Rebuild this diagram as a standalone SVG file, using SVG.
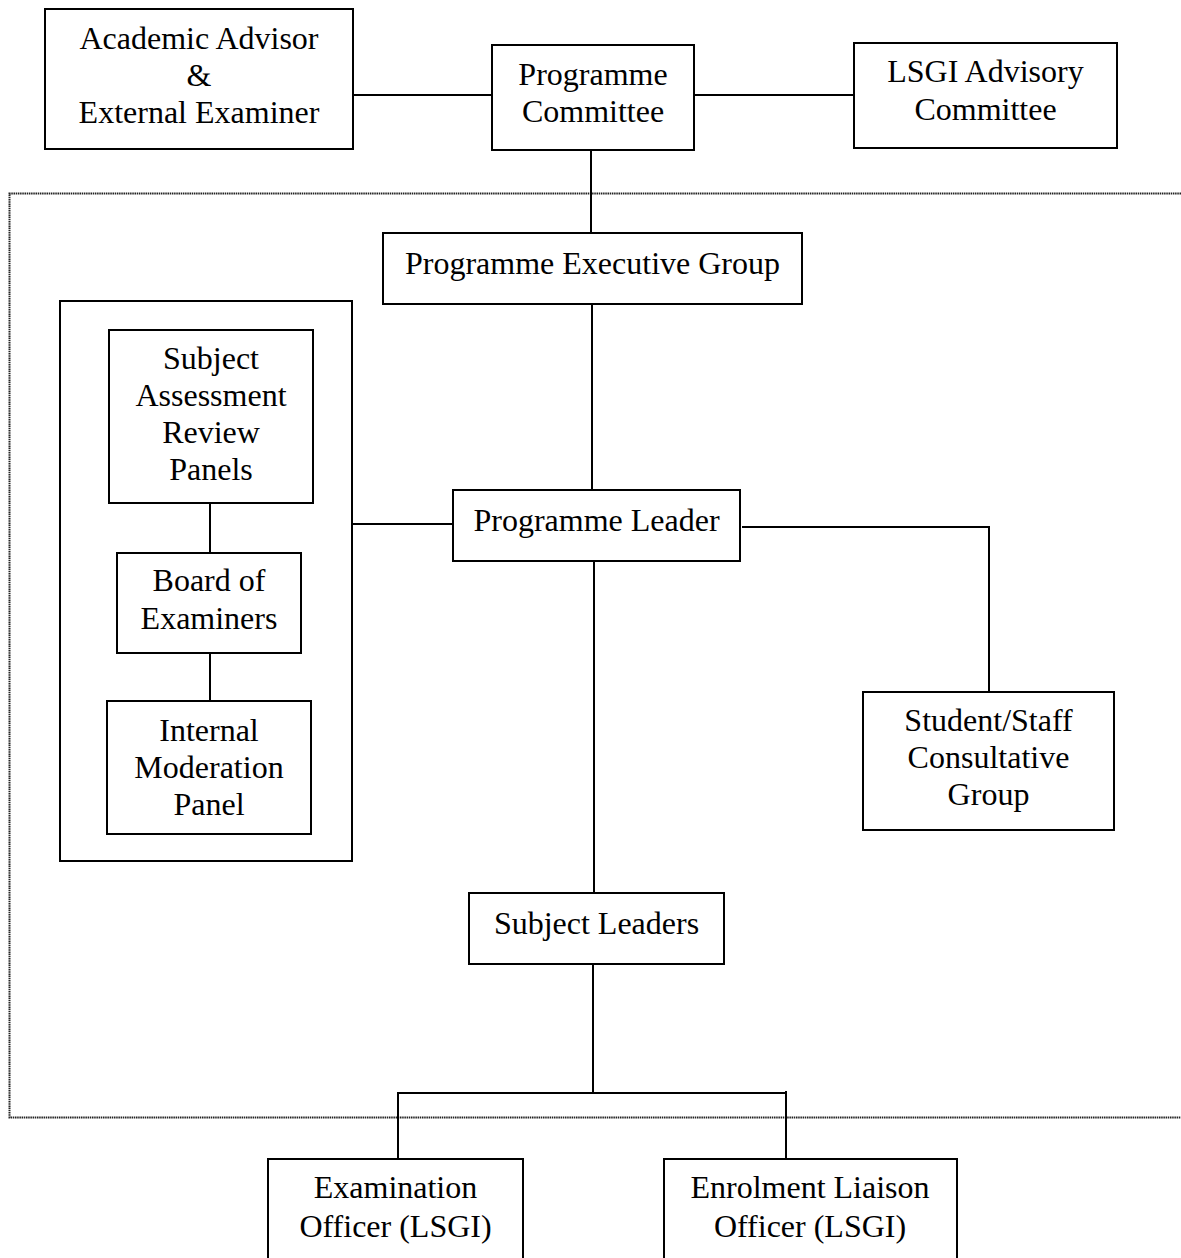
<svg xmlns="http://www.w3.org/2000/svg" width="1181" height="1258" viewBox="0 0 1181 1258">
<style>
.box{fill:#fff;stroke:#000;stroke-width:2}
.frame{fill:none;stroke:#000;stroke-width:2}
.ln{fill:none;stroke:#000;stroke-width:2}
.dot{fill:none;stroke:#222;stroke-width:2;stroke-dasharray:1.5 0.7}
text{font-family:"Liberation Serif","Times New Roman",serif;font-size:32px;fill:#000;text-anchor:middle}
</style>
<rect width="1181" height="1258" fill="#fff"/>
<path id="boundary" class="dot" d="M1181,193.5 H9.5 V1117.5 H1181"/>
<g id="connectors">
<path class="ln" d="M353,95 H492"/>
<path class="ln" d="M694,95 H854"/>
<path class="ln" d="M591,150 V233"/>
<path class="ln" d="M592,304 V490"/>
<path class="ln" d="M352,524 H453"/>
<path class="ln" d="M742,527 H989 V692"/>
<path class="ln" d="M594,561 V893"/>
<path class="ln" d="M210,503 V553"/>
<path class="ln" d="M210,653 V701"/>
<path class="ln" d="M593,964 V1093"/>
<path class="ln" d="M398,1159 V1093 H786"/>
<path class="ln" d="M786,1091 V1159"/>
</g>
<g id="academic-advisor">
<rect class="box" x="45" y="9" width="308" height="140"/>
<text x="199" y="49">Academic Advisor</text>
<text x="199" y="86">&amp;</text>
<text x="199" y="123">External Examiner</text>
</g>
<g id="programme-committee">
<rect class="box" x="492" y="45" width="202" height="105"/>
<text x="593" y="85">Programme</text>
<text x="593" y="122">Committee</text>
</g>
<g id="lsgi-advisory">
<rect class="box" x="854" y="43" width="263" height="105"/>
<text x="985.5" y="82">LSGI Advisory</text>
<text x="985.5" y="120">Committee</text>
</g>
<g id="programme-executive-group">
<rect class="box" x="383" y="233" width="419" height="71"/>
<text x="592.5" y="274">Programme Executive Group</text>
</g>
<g id="assessment-panel">
<rect class="frame" x="60" y="301" width="292" height="560"/>
</g>
<g id="subject-assessment-review-panels">
<rect class="box" x="109" y="330" width="204" height="173"/>
<text x="211" y="369">Subject</text>
<text x="211" y="406">Assessment</text>
<text x="211" y="443">Review</text>
<text x="211" y="480">Panels</text>
</g>
<g id="board-of-examiners">
<rect class="box" x="117" y="553" width="184" height="100"/>
<text x="209" y="591">Board of</text>
<text x="209" y="629">Examiners</text>
</g>
<g id="internal-moderation-panel">
<rect class="box" x="107" y="701" width="204" height="133"/>
<text x="209" y="741">Internal</text>
<text x="209" y="778">Moderation</text>
<text x="209" y="815">Panel</text>
</g>
<g id="programme-leader">
<rect class="box" x="453" y="490" width="287" height="71"/>
<text x="596.5" y="531">Programme Leader</text>
</g>
<g id="student-staff-consultative-group">
<rect class="box" x="863" y="692" width="251" height="138"/>
<text x="988.5" y="731">Student/Staff</text>
<text x="988.5" y="768">Consultative</text>
<text x="988.5" y="805">Group</text>
</g>
<g id="subject-leaders">
<rect class="box" x="469" y="893" width="255" height="71"/>
<text x="596.5" y="934">Subject Leaders</text>
</g>
<g id="examination-officer">
<rect class="box" x="268" y="1159" width="255" height="120"/>
<text x="395.5" y="1198">Examination</text>
<text x="395.5" y="1237">Officer (LSGI)</text>
</g>
<g id="enrolment-liaison-officer">
<rect class="box" x="664" y="1159" width="293" height="120"/>
<text x="810" y="1198">Enrolment Liaison</text>
<text x="810" y="1237">Officer (LSGI)</text>
</g>
</svg>
